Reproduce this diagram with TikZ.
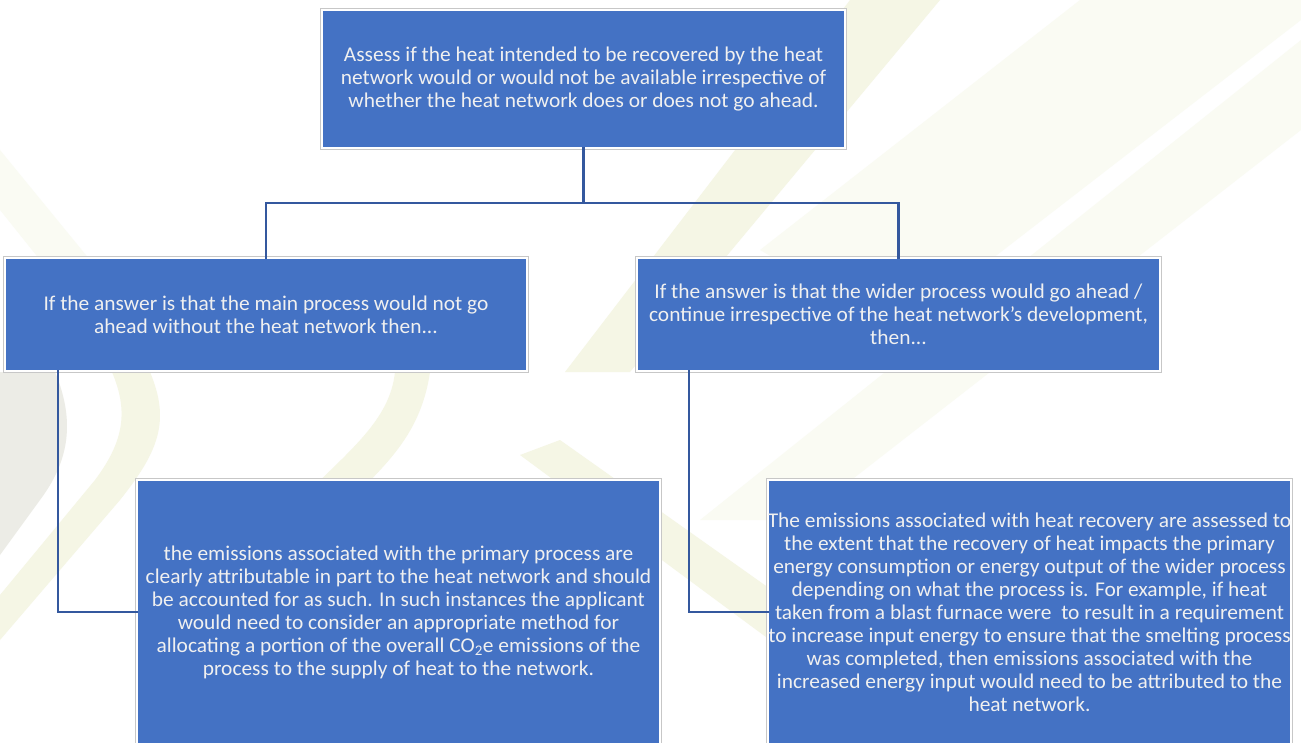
\documentclass[tikz,border=0pt]{standalone}
\usepackage{fontspec}
\setmainfont{Carlito}[FakeStretch=1.02]
\usetikzlibrary{calc}
\definecolor{boxblue}{HTML}{4472C4}
\definecolor{linkblue}{RGB}{52,88,158}
\definecolor{wmyellow}{HTML}{F5F6E5}
\definecolor{wmfaint}{HTML}{FAFBF3}
\definecolor{wmgray}{HTML}{ECECE6}
\tikzset{
  bluebox/.style={rectangle, fill=boxblue, draw=white, line width=1.6pt,
    preaction={draw=black!22, line width=3.6pt},
    inner sep=0pt, outer sep=0pt, align=center, text=white!94!black,
    font=\fontsize{21}{23}\selectfont},
  link/.style={draw=linkblue, line width=2.6pt, line cap=rect},
}
\begin{document}
\begin{tikzpicture}[x=1pt,y=-1pt]
\useasboundingbox (0,0) rectangle (1301,743);
\clip (0,0) rectangle (1301,743);
\fill[white] (0,0) rectangle (1301,743);
% faint watermark
\fill[wmfaint] (700,520) -- (1301,40) -- (1301,130) -- (800,520) -- cycle;
\fill[wmfaint] (760,250) -- (1080,0) -- (1301,0) -- (1301,20) -- (900,330) -- cycle;
\fill[wmyellow] (565,372) -- (850,0) -- (940,0) -- (630,372) -- cycle;
\fill[wmyellow] (520,455) -- (560,440) -- (800,610) -- (770,640) -- cycle;
\fill[wmgray] (0,372) -- (55,372) .. controls (75,420) and (70,460) .. (40,500) -- (0,555) -- cycle;
\fill[wmyellow] (112,372) -- (150,372) .. controls (170,420) and (160,450) .. (120,500) -- (0,640) -- (0,595) -- (95,480) .. controls (125,440) and (128,410) .. cycle;
\fill[wmyellow] (395,372) -- (430,372) .. controls (420,440) and (380,470) .. (330,520) -- (300,500) .. controls (350,450) and (390,420) .. cycle;
\fill[wmfaint] (0,150) -- (90,260) -- (40,260) -- (0,210) -- cycle;
% boxes
\node[bluebox, minimum width=523pt, minimum height=138pt] (top) at (583.5,79)
  {Assess if the heat intended to be recovered by the heat\\
   network would or would not be available irrespective of\\
   whether the heat network does or does not go ahead.};
\node[bluebox, minimum width=522pt, minimum height=113pt] (l1) at (266,314.5)
  {If the answer is that the main process would not go\\
   ahead without the heat network then...};
\node[bluebox, minimum width=523pt, minimum height=113pt] (r1) at (898.5,314.5)
  {If the answer is that the wider process would go ahead /\\
   continue irrespective of the heat network’s development,\\
   then...};
\node[bluebox, minimum width=523pt, minimum height=264pt] (l2) at (398.5,612)
  {the emissions associated with the primary process are\\
   clearly attributable in part to the heat network and should\\
   be accounted for as such. In such instances the applicant\\
   would need to consider an appropriate method for\\
   allocating a portion of the overall CO\textsubscript{2}e emissions of the\\
   process to the supply of heat to the network.};
\node[bluebox, minimum width=523pt, minimum height=264pt] (r2) at (1029.5,612)
  {The emissions associated with heat recovery are assessed to\\
   the extent that the recovery of heat impacts the primary\\
   energy consumption or energy output of the wider process\\
   depending on what the process is. For example, if heat\\
   taken from a blast furnace were\ \ to result in a requirement\\
   to increase input energy to ensure that the smelting process\\
   was completed, then emissions associated with the\\
   increased energy input would need to be attributed to the\\
   heat network.};
% connectors
\coordinate (j) at ($(top.south)+(0,55)$);
\draw[link] (top.south) -- (j) -| (l1.north);
\draw[link] (j) -| (r1.north);
\draw[link] ($(l1.south west)+(53,0)$) |- (l2.west);
\draw[link] ($(r1.south west)+(52,0)$) |- (r2.west);
\end{tikzpicture}
\end{document}
